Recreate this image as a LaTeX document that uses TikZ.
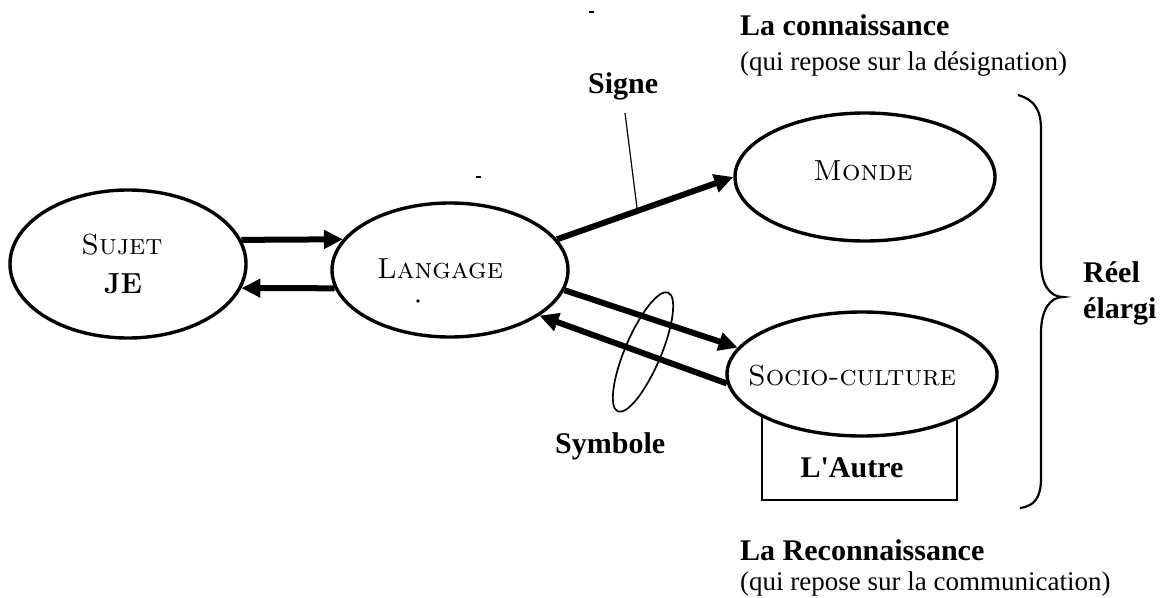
\documentclass[tikz,border=0pt]{standalone}
\usepackage{fontspec}
\newfontfamily\tms{Liberation Serif}
\usetikzlibrary{shapes.geometric,arrows.meta}
\begin{document}
\begin{tikzpicture}[x=1pt,y=-1pt,
  oval/.style={draw, ellipse, line width=3.4pt, fill=white, inner sep=0pt},
  arr/.style={line width=6pt, -{Triangle[length=19pt,width=18pt]}},
  bl/.style={font=\tms\bfseries\fontsize{30}{34}\selectfont, inner sep=0pt, anchor=base west},
  rg/.style={font=\tms\fontsize{27}{31}\selectfont, inner sep=0pt, anchor=base west},
  sc/.style={font=\fontsize{29}{33}\selectfont\scshape, inner sep=0pt, anchor=base},
]
\useasboundingbox (0,0) rectangle (1166,597);

% box behind Socio-culture
\node[draw, line width=1.8pt, minimum width=195pt, minimum height=100pt, inner sep=0pt] (autre) at (859.5,450) {};

% ellipses
\node[oval, minimum width=236pt, minimum height=148pt] (sujet) at (128,264) {};
\node[oval, minimum width=236pt, minimum height=134pt] (lang) at (450,270) {};
\node[oval, minimum width=260pt, minimum height=128pt] (monde) at (865,177) {};
\node[oval, minimum width=270pt, minimum height=124pt] (socio) at (862,374) {};

% texts in shapes
\node[sc] (sujet-t) at (122,254) {Sujet};
\node[font=\fontsize{29}{33}\selectfont\bfseries, anchor=base, inner sep=0pt] (je) at (123,293) {JE};
\node[sc] (lang-t) at (440,278) {Langage};
\node[sc] (monde-t) at (863,180) {Monde};
\node[sc] (socio-t) at (852,385) {Socio-culture};
\node[bl, anchor=base] (autre-t) at (852,477) {L'Autre};

% arrows
\draw[arr] (sujet.12) -- (lang.164);
\draw[arr] (lang.189) -- (sujet.348);
\draw[arr] (lang.16) -- (monde.180);
\draw[arr] (lang.350) -- (socio.168);
\draw[arr] (socio.184) -- (lang.333);

% symbol ellipse
\node[draw, ellipse, line width=1.7pt, minimum width=129pt, minimum height=36pt, rotate=67, inner sep=0pt] (symb) at (643,352) {};

% Signe leader
\coordinate (sg1) at (625,113);
\coordinate (sg2) at (637,208);
\draw[line width=1.2pt] (sg1) -- (sg2);

% labels
\node[bl] (signe) at (588,93) {Signe};
\node[bl] (symbole) at (555,453) {Symbole};
\node[bl] (conn) at (740,35) {La connaissance};
\node[rg] (conn2) at (740,70) {(qui repose sur la désignation)};
\node[bl] (reco) at (740,560) {La Reconnaissance};
\node[rg] (reco2) at (740,590) {(qui repose sur la communication)};
\node[bl] (reel) at (1083,282) {Réel};
\node[bl] (elargi) at (1083,318) {élargi};

% brace
\draw[line width=2.2pt] (1018,95) .. controls (1035,100) and (1041,110) .. (1041,130)
  -- (1041,262) .. controls (1041,285) and (1050,297) .. (1063,297)
  .. controls (1050,297) and (1041,310) .. (1041,333)
  -- (1041,478) .. controls (1041,497) and (1035,506) .. (1020,508);

% small marks
\fill (418,301) circle (1.8pt);
\draw[line width=1.2pt] (476,177) -- (481,177);
\draw[line width=1.2pt] (589,12) -- (594,12);
\end{tikzpicture}
\end{document}
